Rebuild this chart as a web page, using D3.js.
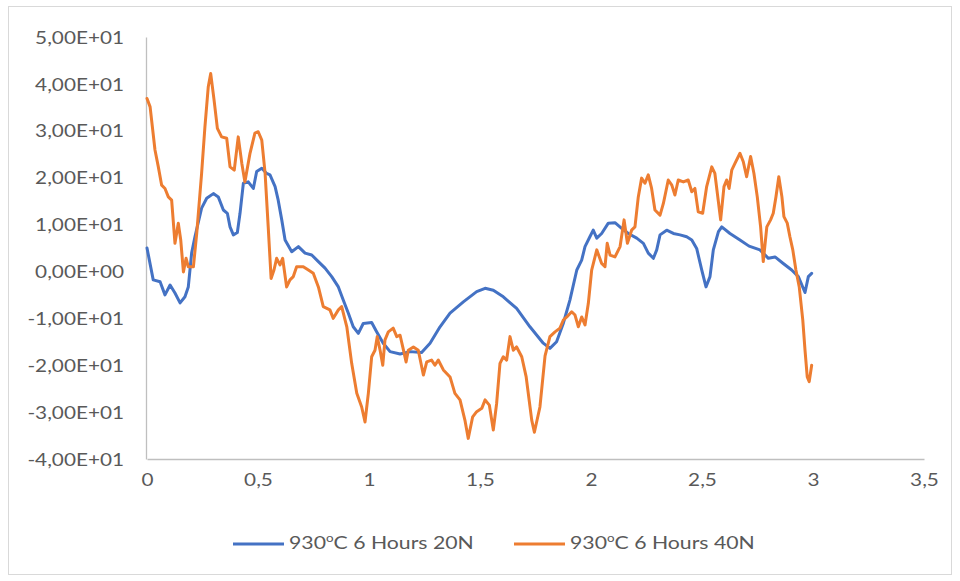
<!DOCTYPE html>
<html>
<head>
<meta charset="utf-8">
<script src="https://cdn.jsdelivr.net/npm/d3@7"></script>
<style>
  html, body { margin: 0; padding: 0; background: #fff; }
  svg { display: block; }
  text { font-family: Lato, "Open Sans", sans-serif; fill: #595959; }
</style>
</head>
<body>
<svg id="chart" width="960" height="581"></svg>
<script>
// Sliding distance (mm) vs. value, two normal loads
const seriesNames = ["930", "930"];
const legendLabels = ["20N", "40N"];

const yTickValues = [-40, -30, -20, -10, 0, 10, 20, 30, 40, 50];
const yTickLabels = ["-4,00E+01", "-3,00E+01", "-2,00E+01", "-1,00E+01", "0,00E+00",
                     "1,00E+01", "2,00E+01", "3,00E+01", "4,00E+01", "5,00E+01"];
const xTickValues = [0, 0.5, 1, 1.5, 2, 2.5, 3, 3.5];
const xTickLabels = ["0", "0,5", "1", "1,5", "2", "2,5", "3", "3,5"];

// 930°C 6 Hours 20N
const load20x = [0,0.028,0.059,0.081,0.104,0.126,0.149,0.171,0.186,0.201,0.216,0.246,0.269,0.299,0.321,0.344,0.362,0.374,0.389,0.407,0.419,0.434,0.456,0.479,0.494,0.517,0.539,0.554,0.577,0.591,0.607,0.622,0.652,0.682,0.712,0.742,0.772,0.802,0.832,0.862,0.884,0.907,0.929,0.952,0.974,1.012,1.035,1.064,1.095,1.140,1.185,1.237,1.275,1.320,1.365,1.425,1.485,1.523,1.560,1.605,1.665,1.725,1.785,1.815,1.845,1.875,1.905,1.936,1.958,1.973,1.995,2.010,2.026,2.048,2.078,2.108,2.138,2.168,2.206,2.236,2.258,2.281,2.296,2.311,2.341,2.371,2.401,2.431,2.454,2.476,2.499,2.518,2.536,2.551,2.574,2.589,2.626,2.671,2.712,2.761,2.799,2.829,2.866,2.904,2.934,2.964,2.979,2.994];
const load20y = [5.0,-1.8,-2.2,-5.0,-2.9,-4.6,-6.7,-5.4,-3.3,3.9,7.4,13.5,15.6,16.6,15.9,13.1,12.4,9.5,7.8,8.3,12.4,18.8,19.1,17.7,21.3,22.0,20.9,20.6,18.1,15.2,11.0,6.7,4.2,5.3,3.9,3.5,2.1,0.7,-1.1,-3.3,-6.1,-8.9,-11.8,-13.2,-11.1,-10.9,-12.9,-15.3,-17.1,-17.6,-17.1,-17.3,-15.3,-11.8,-8.9,-6.5,-4.3,-3.6,-4.0,-5.4,-7.9,-11.8,-15.3,-16.4,-15.0,-11.1,-6.1,0.3,2.4,5.3,7.4,8.8,7.1,8.1,10.3,10.4,9.2,8.1,7.1,6.0,3.9,2.8,4.6,7.8,8.8,8.1,7.8,7.4,6.7,4.9,0.3,-3.3,-1.1,4.6,8.5,9.5,8.1,6.7,5.4,4.6,2.8,3.1,1.7,0.3,-1.1,-4.5,-1.1,-0.4];

// 930°C 6 Hours 40N
const load40x = [0,0.014,0.036,0.051,0.066,0.081,0.096,0.111,0.126,0.141,0.152,0.164,0.176,0.186,0.209,0.224,0.246,0.261,0.276,0.287,0.302,0.317,0.336,0.359,0.374,0.393,0.411,0.427,0.441,0.464,0.486,0.501,0.517,0.532,0.546,0.559,0.572,0.584,0.599,0.611,0.629,0.644,0.659,0.674,0.704,0.727,0.749,0.772,0.794,0.824,0.839,0.862,0.877,0.900,0.922,0.945,0.967,0.982,0.997,1.012,1.027,1.037,1.050,1.062,1.072,1.087,1.109,1.125,1.140,1.152,1.167,1.177,1.200,1.222,1.245,1.260,1.282,1.297,1.312,1.335,1.365,1.387,1.410,1.432,1.447,1.467,1.485,1.508,1.523,1.542,1.560,1.575,1.590,1.605,1.620,1.635,1.650,1.665,1.688,1.708,1.733,1.745,1.770,1.793,1.815,1.838,1.860,1.875,1.891,1.913,1.928,1.943,1.958,1.973,1.988,2.003,2.026,2.048,2.063,2.073,2.086,2.108,2.131,2.149,2.164,2.183,2.198,2.213,2.228,2.243,2.258,2.273,2.288,2.311,2.326,2.348,2.364,2.378,2.393,2.416,2.438,2.454,2.468,2.483,2.503,2.521,2.544,2.558,2.584,2.599,2.611,2.622,2.634,2.649,2.671,2.686,2.701,2.719,2.734,2.749,2.764,2.776,2.792,2.809,2.821,2.833,2.846,2.860,2.869,2.884,2.896,2.909,2.923,2.938,2.954,2.964,2.974,2.983,2.994];
const load40y = [36.9,35.1,25.9,22.3,18.4,17.7,15.9,15.2,6.0,10.3,6.7,-0.1,2.8,1.0,1.0,8.1,20.9,30.9,39.4,42.2,36.6,30.5,28.7,28.4,22.3,21.6,28.7,23.1,19.1,25.2,29.5,29.8,28.0,20.9,9.5,-1.5,0.3,2.8,1.4,2.8,-3.3,-1.8,-1.1,1.0,1.0,0.3,-0.4,-3.3,-7.5,-8.2,-10.0,-8.2,-7.5,-11.8,-19.6,-26.0,-28.9,-32.1,-26.0,-18.2,-16.8,-13.9,-16.8,-20.0,-14.6,-12.9,-12.1,-13.9,-13.6,-16.1,-19.3,-16.8,-16.1,-16.8,-22.1,-19.3,-18.9,-20.0,-18.9,-21.0,-22.5,-26.0,-27.4,-31.7,-35.6,-31.0,-29.9,-29.2,-27.4,-28.5,-33.8,-28.1,-19.6,-18.2,-18.9,-13.9,-16.8,-16.1,-18.2,-22.5,-31.7,-34.3,-28.9,-18.0,-13.9,-12.9,-12.1,-10.4,-9.7,-8.6,-9.3,-11.8,-9.7,-11.4,-6.8,0.3,4.6,1.7,1.0,6.0,3.5,3.1,5.3,11.0,6.0,8.8,9.5,15.9,19.9,18.8,20.6,17.7,13.1,12.0,14.5,19.5,18.4,16.3,19.5,19.1,19.5,17.0,17.7,12.7,12.4,18.1,22.3,20.9,11.0,18.1,19.5,17.7,21.6,23.1,25.2,23.4,20.2,24.5,20.9,15.9,9.5,2.1,9.5,11.0,12.4,15.9,20.2,15.9,11.7,10.3,7.4,4.6,0.3,-3.3,-10.4,-16.8,-22.5,-23.5,-20.0];

const colors = ["#4472C4", "#ED7D31"];

const svg = d3.select("#chart");

// outer chart frame
svg.append("rect")
  .attr("x", 8.5).attr("y", 6.5)
  .attr("width", 943).attr("height", 568)
  .attr("fill", "#fff").attr("stroke", "#d9d9d9").attr("stroke-width", 1);

const x = d3.scaleLinear().domain([0, 3.5]).range([147, 924]);
const y = d3.scaleLinear().domain([-40, 50]).range([459, 37]);

// horizontal stretch applied to text so glyph widths follow the frame
function stretch(sel, targetWidth, anchor) {
  sel.each(function () {
    const w = this.getComputedTextLength();
    const s = targetWidth / w;
    const tx = +this.getAttribute("x");
    const ty = +this.getAttribute("y");
    let ox = tx;
    if (anchor === "end") ox = tx;
    d3.select(this).attr("transform",
      `translate(${ox},${ty}) scale(${s},1) translate(${-ox},${-ty})`);
  });
}

// y axis
const yAxis = d3.axisLeft(y)
  .tickValues(yTickValues)
  .tickSize(0)
  .tickPadding(22)
  .tickFormat((d, i) => yTickLabels[i]);
const gy = svg.append("g").attr("transform", `translate(${x(0) - 1},0)`).call(yAxis);
gy.select(".domain").attr("stroke", "#bfbfbf").attr("stroke-width", 1.3);
gy.selectAll(".tick text")
  .attr("font-size", 17.5)
  .attr("font-family", "Lato, sans-serif")
  .attr("fill", "#595959")
  .attr("dy", "0.35em");

// x axis
const xAxis = d3.axisBottom(x)
  .tickValues(xTickValues)
  .tickSize(0)
  .tickPadding(27)
  .tickFormat((d, i) => xTickLabels[i]);
const gx = svg.append("g").attr("transform", `translate(0,${y(-40)})`).call(xAxis);
gx.select(".domain").attr("stroke", "#bfbfbf").attr("stroke-width", 1.3);
gx.selectAll(".tick text")
  .attr("font-size", 17.5)
  .attr("font-family", "Lato, sans-serif")
  .attr("fill", "#595959")
  .attr("dy", "0");

// widen tick labels by a common factor
(function () {
  const ref = gy.selectAll(".tick text").filter((d) => d === 50).node();
  const s = 89 / ref.getComputedTextLength();
  gy.selectAll(".tick text").attr("transform", `scale(${s},1)`).attr("x", -22 / s);
  gx.selectAll(".tick text").attr("transform", `scale(${s},1)`);
})();

// series lines
const seriesData = [
  load20x.map((v, i) => [v, load20y[i]]),
  load40x.map((v, i) => [v, load40y[i]])
];
const line = d3.line().x(d => x(d[0])).y(d => y(d[1]));

svg.append("g").selectAll("path")
  .data(seriesData)
  .join("path")
  .attr("d", line)
  .attr("fill", "none")
  .attr("stroke", (d, i) => colors[i])
  .attr("stroke-width", 3)
  .attr("stroke-linejoin", "round")
  .attr("stroke-linecap", "round");

// legend
const legendX = [233, 514];
const legendY = 544;
const lg = svg.append("g");
legendLabels.forEach((lab, i) => {
  const g = lg.append("g");
  g.append("line")
    .attr("x1", legendX[i]).attr("x2", legendX[i] + 51)
    .attr("y1", legendY).attr("y2", legendY)
    .attr("stroke", colors[i]).attr("stroke-width", 3);
  const t = g.append("text")
    .attr("x", legendX[i] + 56)
    .attr("y", legendY + 5.5)
    .attr("font-size", 17.5);
  t.append("tspan").text(seriesNames[i]);
  t.append("tspan").attr("font-size", 11).attr("dy", -7).text("o");
  t.append("tspan").attr("dy", 7).text("C 6 Hours " + lab);
  const w = t.node().getComputedTextLength();
  const s = 185 / w;
  const ox = legendX[i] + 56;
  t.attr("transform", `translate(${ox},0) scale(${s},1) translate(${-ox},0)`);
});
</script>
</body>
</html>
